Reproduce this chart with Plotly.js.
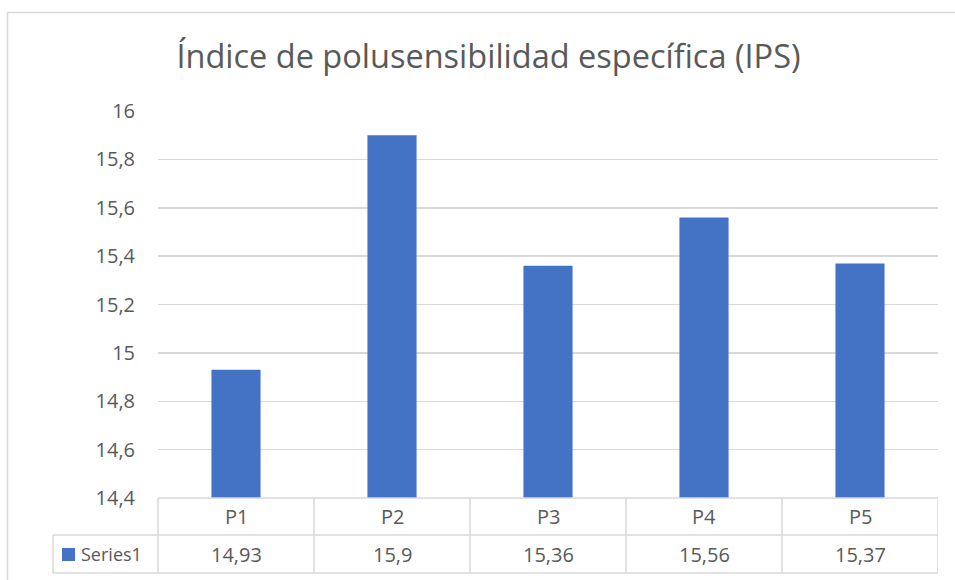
<!DOCTYPE html>
<html><head><meta charset="utf-8">
<script src="https://cdn.plot.ly/plotly-3.0.1.min.js"></script>
<style>html,body{margin:0;padding:0;background:#fff;}#c{width:955px;height:580px;}</style>
</head><body><div id="c"></div>
<script>
const categories = ["P1","P2","P3","P4","P5"];
const values = [14.93, 15.9, 15.36, 15.56, 15.37];
const valueLabels = ["14,93","15,9","15,36","15,56","15,37"];
const seriesName = "Series1";
const titleText = "Índice de polusensibilidad específica (IPS)";

const L = 158, R = 938, T = 111, B = 498, W = 955, H = 580;
const pw = R - L, ph = B - T;
const px = x => (x - L) / pw;
const py = y => (B - y) / ph;
const grid = "#d9d9d9";
const font = "'Open Sans', sans-serif";
const txt = "#595959";

const shapes = [];
function line(x0,y0,x1,y1){shapes.push({type:"line",xref:"paper",yref:"paper",x0:px(x0),y0:py(y0),x1:px(x1),y1:py(y1),line:{color:grid,width:1.5}});}
// chart border
shapes.push({type:"rect",xref:"paper",yref:"paper",x0:px(7.5),y0:py(12.5),x1:px(975),y1:py(590),line:{color:grid,width:1.5}});
// data table grid
line(L,B,R,B); line(53,535,R,535); line(53,573,R,573);
line(53,535,53,573); line(L,B,L,573);
for(let i=0;i<categories.length;i++){
  shapes.push({type:"line",xref:"x",yref:"paper",x0:i+0.5,x1:i+0.5,y0:py(B),y1:py(573),line:{color:grid,width:1.5}});
}
// legend key
shapes.push({type:"rect",xref:"paper",yref:"paper",x0:px(62),x1:px(75),y0:py(548),y1:py(561),fillcolor:"#4472C4",line:{width:0}});

const annotations = [];
categories.forEach((c,i)=>{
  annotations.push({x:c,xref:"x",y:py(516.5),yref:"paper",yanchor:"middle",text:c,showarrow:false,font:{family:font,size:20,color:txt}});
  annotations.push({x:c,xref:"x",y:py(554),yref:"paper",yanchor:"middle",text:valueLabels[i],showarrow:false,font:{family:font,size:20,color:txt}});
});
annotations.push({x:px(79),xref:"paper",xanchor:"left",y:py(554),yref:"paper",yanchor:"middle",text:seriesName,showarrow:false,font:{family:font,size:18,color:txt}});

Plotly.newPlot("c",[{
  type:"bar",x:categories,y:values,name:seriesName,
  marker:{color:"#4472C4"},hoverinfo:"none"
}],{
  width:W,height:H,
  margin:{l:L,r:W-R,t:T,b:H-B,pad:0},
  paper_bgcolor:"#fff",plot_bgcolor:"#fff",
  separators:",.",
  bargap:0.685,
  showlegend:false,
  title:{text:titleText,xref:"container",yref:"container",x:488.5/W,xanchor:"center",y:1-57/H,yanchor:"middle",font:{family:font,size:32.5,color:txt}},
  xaxis:{type:"category",range:[-0.5,4.5],showticklabels:false,showgrid:false,zeroline:false,showline:false,ticks:""},
  yaxis:{range:[14.4,16],dtick:0.2,tick0:14.4,showgrid:true,gridcolor:grid,gridwidth:1.5,zeroline:false,showline:false,ticks:"",ticklabelstandoff:22,tickfont:{family:font,size:20,color:txt}},
  shapes:shapes,annotations:annotations
},{staticPlot:true});
</script></body></html>
